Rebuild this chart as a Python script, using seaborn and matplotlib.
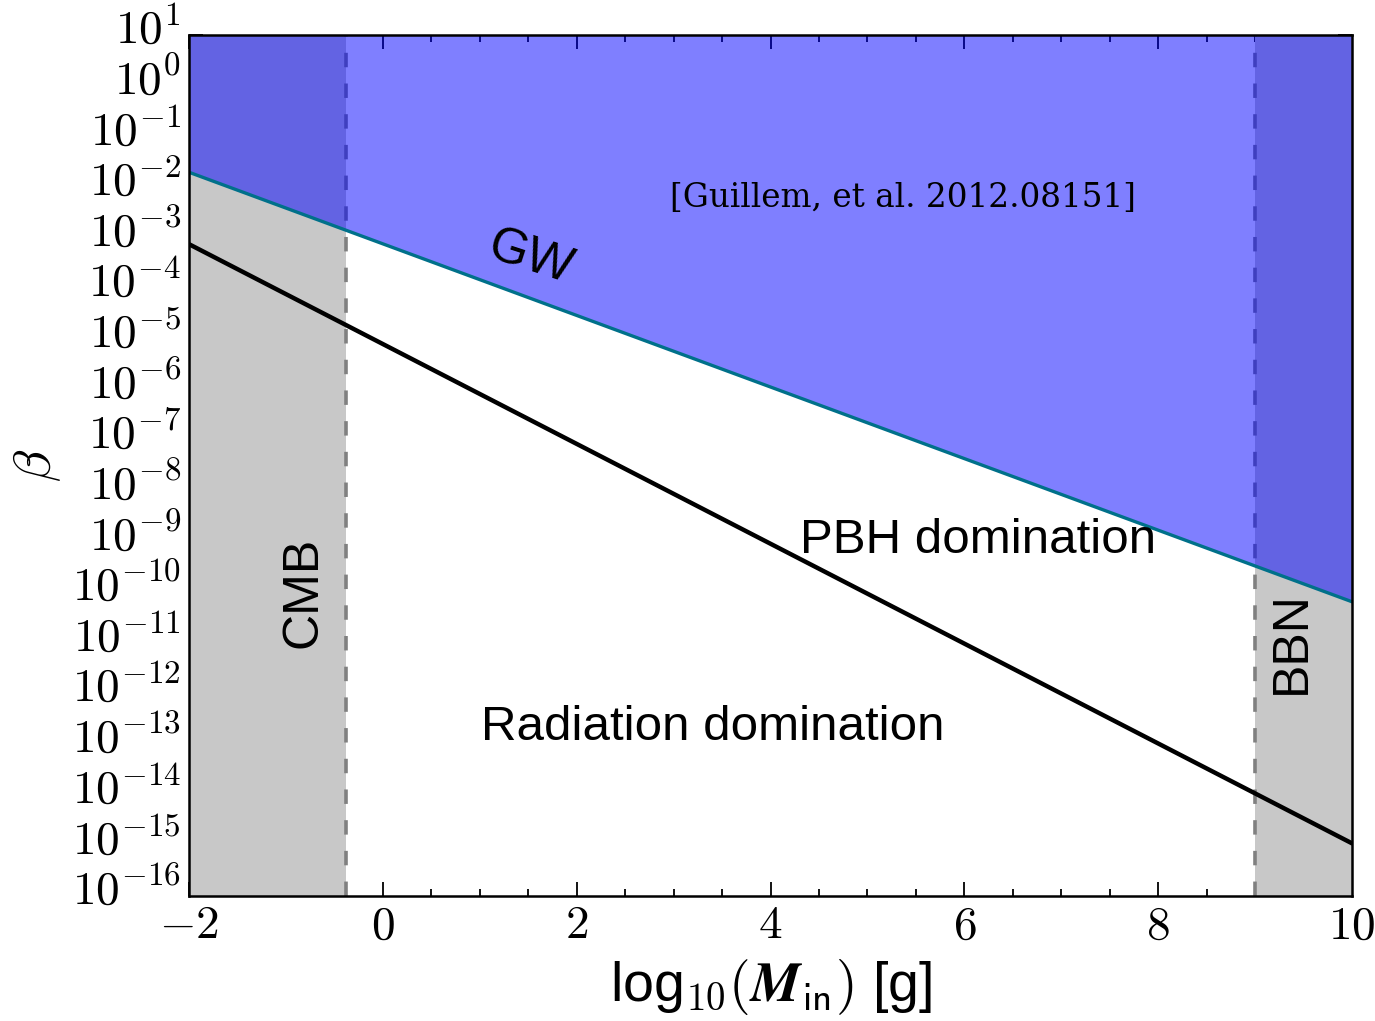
import numpy as np
import pandas as pd
import matplotlib
matplotlib.use("Agg")
import matplotlib.pyplot as plt
from matplotlib.ticker import FuncFormatter, MultipleLocator, LogLocator, NullFormatter
from matplotlib.transforms import ScaledTranslation
import seaborn as sns

# ---- data ----
log_M = [-2.0, 10.0]                          # log10(M_in / g)
beta_crit = [10**-3.13, 10**-14.96]           # PBH / radiation domination boundary
beta_gw = [10**-1.71, 10**-10.19]             # GW bound
cmb_edge = -0.38                              # CMB bound (log10 M)
bbn_edge = 9.0                                # BBN bound (log10 M)
x_range = [-2, 10]
y_range = [1e-16, 1e1]

sns.set_style("ticks")
plt.rcParams["font.family"] = ["Liberation Sans", "DejaVu Sans"]
plt.rcParams["mathtext.fontset"] = "cm"
for k in ["text.color", "axes.labelcolor", "xtick.color", "ytick.color", "axes.edgecolor"]:
    plt.rcParams[k] = "black"

fig = plt.figure(figsize=(13.75, 10.21), dpi=100)
ax = fig.add_axes([0.1375, 0.1224, 0.9833 - 0.1375, 0.9657 - 0.1224])
ax.set_yscale("log")
ax.set_xlim(*x_range)
ax.set_ylim(*y_range)

df = pd.DataFrame({"logM": log_M, "beta_c": beta_crit, "beta_gw": beta_gw})

# grey excluded regions
ax.axvspan(x_range[0], cmb_edge, color="#c8c8c8", lw=0, zorder=1)
ax.axvspan(bbn_edge, x_range[1], color="#c8c8c8", lw=0, zorder=1)
ax.axvline(cmb_edge, color="#808080", ls=(0, (4, 4.5)), lw=2.6, zorder=2)
ax.axvline(bbn_edge, color="#808080", ls=(0, (4, 4.5)), lw=2.6, zorder=2)

# GW excluded region
ax.fill_between(df["logM"], df["beta_gw"], y_range[1], color="blue", alpha=0.5, lw=0, zorder=3)

sns.lineplot(data=df, x="logM", y="beta_gw", ax=ax, color="#00708a", lw=2.4, zorder=4)
sns.lineplot(data=df, x="logM", y="beta_c", ax=ax, color="black", lw=3.2, zorder=5)

# texts
fs = 35.5
ax.text(1.52, 10**-3.40, "GW", fontsize=36, rotation=-18, ha="center", va="center", zorder=6)
ax.text(6.14, 10**-8.99, "PBH domination", fontsize=fs, ha="center", va="center", zorder=6)
ax.text(3.40, 10**-12.68, "Radiation domination", fontsize=fs, ha="center", va="center", zorder=6)
ax.text(-0.824, 1e-10, "CMB", fontsize=36, rotation=90, ha="center", va="center", zorder=6)
ax.text(9.38, 1e-11, "BBN", fontsize=36, rotation=90, ha="center", va="center", zorder=6)
ax.text(5.37, 10**-2.22, "[Guillem, et al. 2012.08151]", fontsize=23.5, ha="center", va="center",
        family=["DejaVu Serif"], zorder=6)

# axes styling
ax.xaxis.set_major_locator(MultipleLocator(2))
ax.xaxis.set_minor_locator(MultipleLocator(0.5))
ax.xaxis.set_major_formatter(FuncFormatter(lambda v, p: r"$%d$" % round(v)))
ax.yaxis.set_major_locator(LogLocator(base=10, numticks=30))
ax.yaxis.set_minor_locator(LogLocator(base=10, subs=np.arange(2, 10), numticks=30))
ax.yaxis.set_minor_formatter(NullFormatter())
ax.yaxis.set_major_formatter(FuncFormatter(lambda v, p: r"$10^{%d}$" % round(np.log10(v))))
ax.tick_params(which="both", direction="in", top=True, right=True, width=1.3)
ax.tick_params(which="major", length=10, labelsize=34, pad=6)
ax.tick_params(which="minor", length=5)
for s in ax.spines.values():
    s.set_linewidth(1.8)
    s.set_zorder(10)

# shift y tick labels up so the "10" sits on the tick
shift = ScaledTranslation(0, 7 / 72, fig.dpi_scale_trans)
for t in ax.yaxis.get_major_ticks():
    t.label1.set_transform(t.label1.get_transform() + shift)

ax.set_xlabel(r"log$_{\mathbf{10}}(\mathbfit{M}_{\mathsf{in}})$ [g]", fontsize=40, labelpad=6)
ax.set_ylabel(r"$\beta$", fontsize=38, labelpad=6)

fig.savefig("out.png", dpi=100)
